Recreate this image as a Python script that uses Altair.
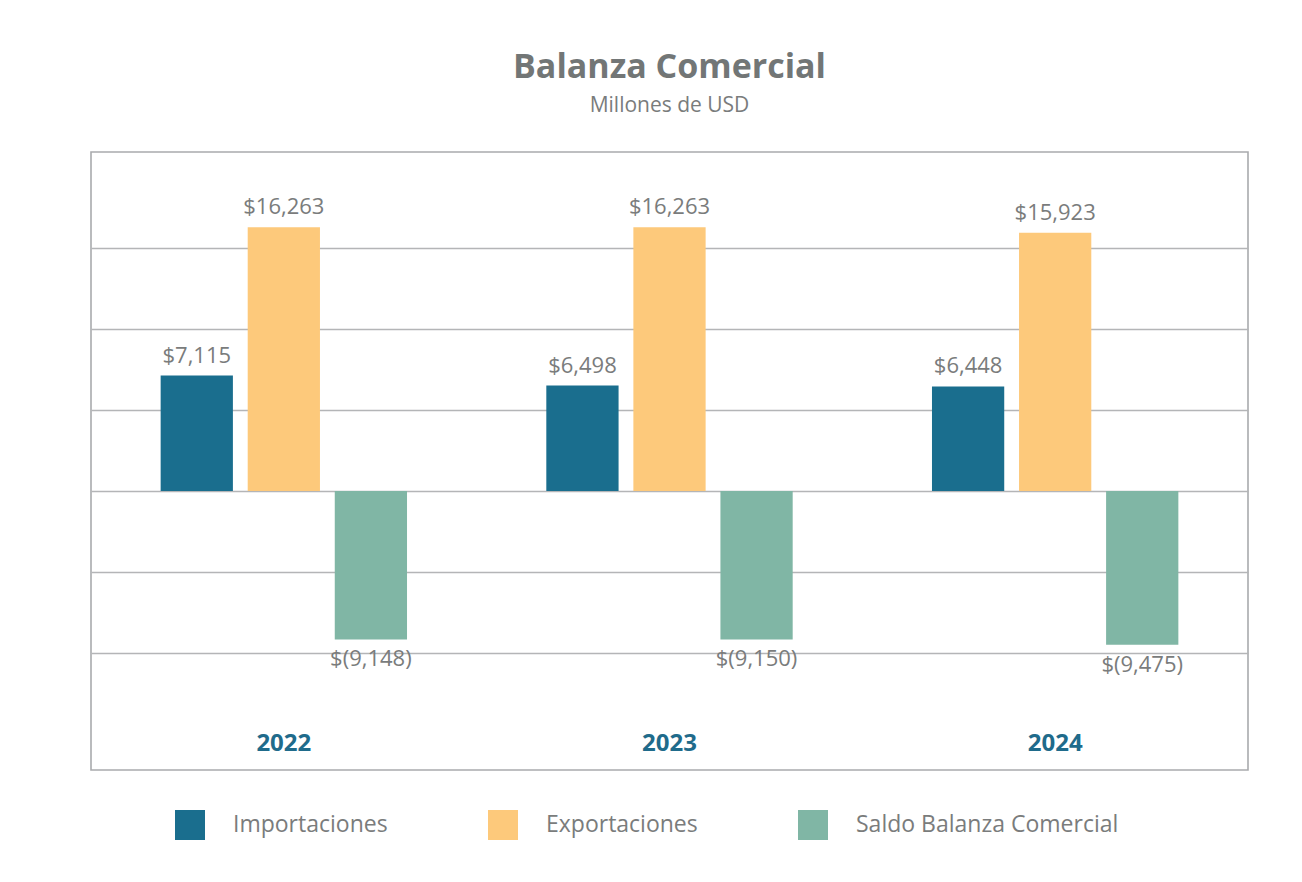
import altair as alt
import pandas as pd

years = ["2022", "2023", "2024"]
series = ["Importaciones", "Exportaciones", "Saldo Balanza Comercial"]
importaciones = [7115, 6498, 6448]
exportaciones = [16263, 16263, 15923]
saldo = [-9148, -9150, -9475]
colors = ["#1a6e8e", "#fdc97b", "#80b6a5"]
grid_values = [-10000, -5000, 0, 5000, 10000, 15000]


def fmt(v):
    return f"${v:,}" if v >= 0 else f"$({abs(v):,})"


rows = []
for i, y in enumerate(years):
    for s, vals in zip(series, [importaciones, exportaciones, saldo]):
        rows.append({"year": y, "serie": s, "value": vals[i], "label": fmt(vals[i])})
df = pd.DataFrame(rows)

FONT = "Open Sans"
GRAY = "#7a7c7c"

x_enc = alt.X(
    "year:N",
    sort=years,
    scale=alt.Scale(paddingInner=0, paddingOuter=0),
    axis=alt.Axis(
        title=None, orient="bottom", ticks=False, tickSize=0, domain=False,
        labelAngle=0, labelFont=FONT, labelFontSize=24, labelFontWeight="bold",
        labelColor="#1f6b8b", labelPadding=-39, labelBaseline="top", grid=False,
    ),
)
xo_enc = alt.XOffset(
    "serie:N", sort=series,
    scale=alt.Scale(paddingInner=0.17, paddingOuter=0.8),
)
y_enc = alt.Y(
    "value:Q",
    scale=alt.Scale(domain=[-17200, 20900], nice=False, zero=False),
    axis=alt.Axis(
        title=None, labels=False, ticks=False, domain=False, values=grid_values,
        grid=True, gridColor="#b4b5b7", gridWidth=1.6,
    ),
)

base = alt.Chart(df)

bars = base.mark_bar().encode(
    x=x_enc,
    xOffset=xo_enc,
    y=y_enc,
    y2=alt.datum(0),
    color=alt.Color(
        "serie:N", sort=series,
        scale=alt.Scale(domain=series, range=colors),
        legend=alt.Legend(
            title=None, orient="none", direction="horizontal",
            legendX=84, legendY=658,
            symbolType="square", symbolSize=900, symbolStrokeWidth=0,
            labelFont=FONT, labelFontSize=23, labelColor=GRAY, labelLimit=400,
            labelOffset=28, columnPadding=100,
        ),
    ),
)

pos_text = base.transform_filter("datum.value >= 0").mark_text(
    baseline="bottom", dy=-8, font=FONT, fontSize=22, color=GRAY
).encode(x=x_enc, xOffset=xo_enc, y=y_enc, text="label:N")

neg_text = base.transform_filter("datum.value < 0").mark_text(
    baseline="top", dy=10, font=FONT, fontSize=22, color=GRAY
).encode(x=x_enc, xOffset=xo_enc, y=y_enc, text="label:N")

chart = (
    alt.layer(bars, pos_text, neg_text)
    .properties(
        width=1157,
        height=618,
        padding={"left": 83, "top": 43, "right": 40, "bottom": 20},
        title=alt.TitleParams(
            text="Balanza Comercial",
            subtitle="Millones de USD",
            anchor="middle",
            font=FONT, fontSize=34, fontWeight="bold", color="#727676",
            subtitleFont=FONT, subtitleFontSize=21, subtitleColor=GRAY,
            subtitlePadding=10, offset=36,
        ),
        background="white",
    )
    .configure_view(stroke="#a9abad", strokeWidth=1.6)
)

chart.save("out.html", embed_options={"renderer": "svg", "actions": False})
